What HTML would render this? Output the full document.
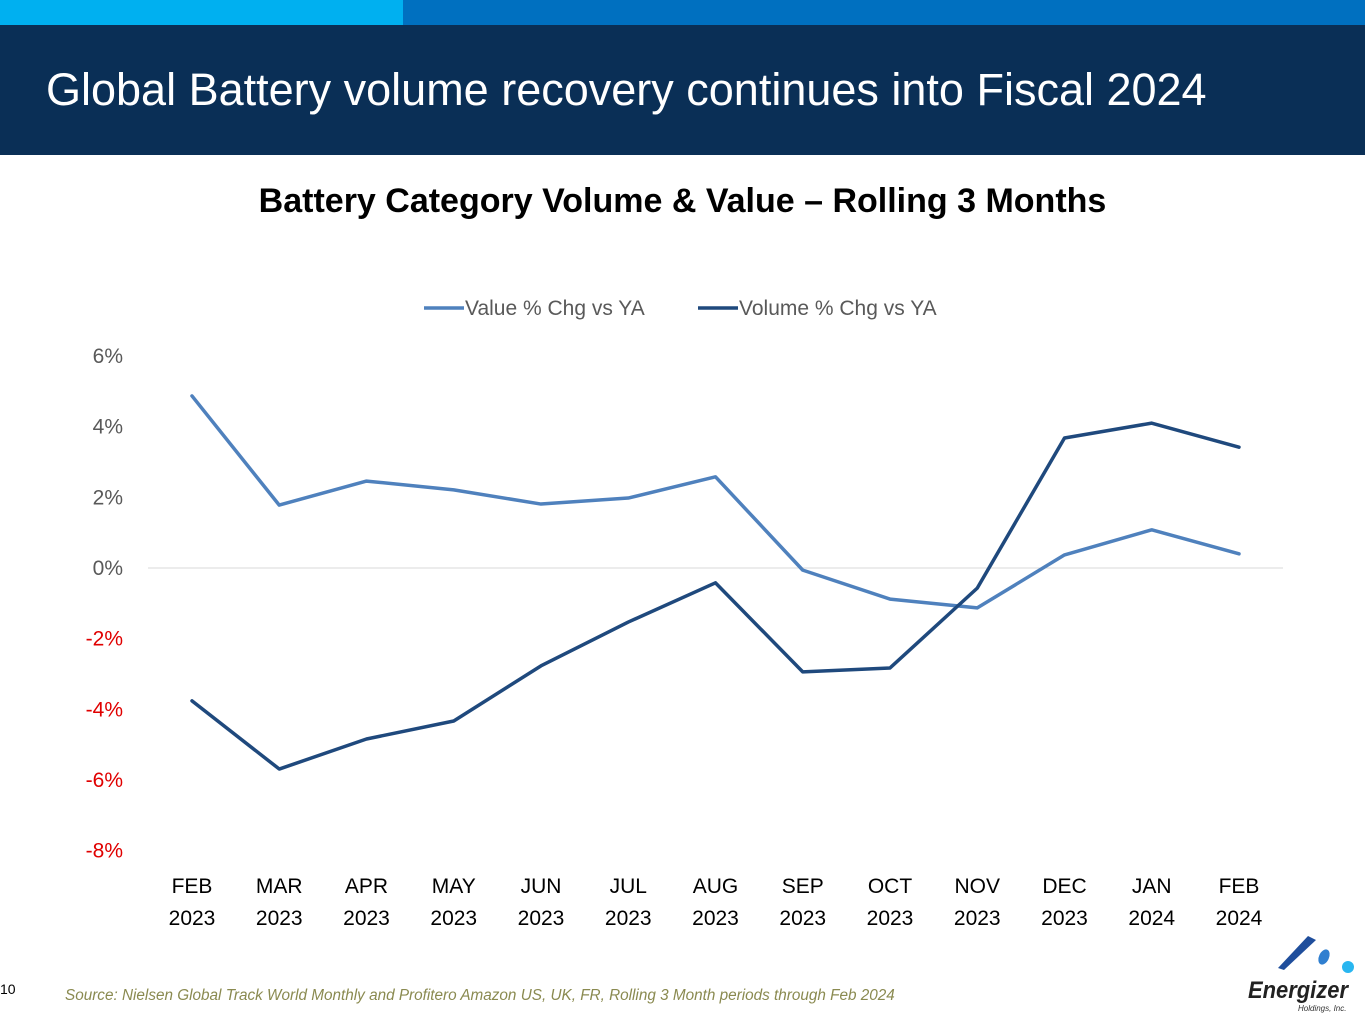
<!DOCTYPE html>
<html><head><meta charset="utf-8"><style>
body{margin:0;width:1365px;height:1024px;position:relative;background:#fff;font-family:"Liberation Sans",sans-serif;overflow:hidden}
</style></head><body>
<div style="position:absolute;left:0;top:0;width:403px;height:25px;background:#00b0f0"></div>
<div style="position:absolute;left:403px;top:0;width:962px;height:25px;background:#0070c0"></div>
<div style="position:absolute;left:0;top:25px;width:1365px;height:130px;background:#0a2f56"></div>
<div style="position:absolute;left:46px;top:64px;color:#fff;font-size:45px;white-space:nowrap">Global Battery volume recovery continues into Fiscal 2024</div>
<div style="position:absolute;left:0;width:1365px;top:182px;text-align:center;font-weight:bold;font-size:34px;color:#000">Battery Category Volume &amp; Value – Rolling 3 Months</div>
<svg id="chart" width="1365" height="1024" style="position:absolute;left:0;top:0"></svg>
<div style="position:absolute;left:0;top:981px;font-size:14px;color:#000">10</div>
<div style="position:absolute;left:65px;top:987px;font-size:15.3px;font-style:italic;color:#8a8a50;white-space:nowrap">Source: Nielsen Global Track World Monthly and Profitero Amazon US, UK, FR, Rolling 3 Month periods through Feb 2024</div>
<svg width="125" height="90" style="position:absolute;left:1240px;top:930px">
<polygon points="38,38 68,6 76,10 44,40" fill="#1f4e9c"/>
<ellipse cx="84" cy="27" rx="5" ry="8" fill="#2f7fd0" transform="rotate(25 84 27)"/>
<circle cx="108" cy="37" r="6" fill="#29b6f0"/>
<text x="8" y="68" font-size="24" font-weight="bold" font-style="italic" fill="#222" textLength="100" lengthAdjust="spacingAndGlyphs">Energizer</text>
<text x="58" y="81" font-size="8" font-style="italic" fill="#333">Holdings, Inc.</text>
</svg>
<script>
const categories=["FEB|2023","MAR|2023","APR|2023","MAY|2023","JUN|2023","JUL|2023","AUG|2023","SEP|2023","OCT|2023","NOV|2023","DEC|2023","JAN|2024","FEB|2024"];
const valueSeries=[4.87,1.78,2.46,2.21,1.81,1.98,2.58,-0.06,-0.88,-1.13,0.37,1.08,0.40];
const volumeSeries=[-3.76,-5.69,-4.84,-4.33,-2.77,-1.53,-0.42,-2.94,-2.83,-0.57,3.68,4.10,3.42];
const yTicks=[6,4,2,0,-2,-4,-6,-8];
const legendLabels=["Value % Chg vs YA","Volume % Chg vs YA"];
const svg=document.getElementById('chart');
const NS="http://www.w3.org/2000/svg";
const x=i=>192+i*(1239-192)/(categories.length-1);
const y=v=>568-v*(568-356)/6;
function mk(t,a){const e=document.createElementNS(NS,t);for(const k in a)e.setAttribute(k,a[k]);svg.appendChild(e);return e;}
const g=mk('line',{x1:148,x2:1283,y1:y(0),y2:y(0),stroke:'#d9d9d9','stroke-width':1});


yTicks.forEach(v=>{const t=mk('text',{x:123,y:y(v)+7,'text-anchor':'end','font-size':21,fill:v<0?'#e00000':'#595959'});t.textContent=v+'%';

});
categories.forEach((c,i)=>{const p=c.split('|');[0,1].forEach(j=>{const t=mk('text',{x:x(i),y:893+j*32,'text-anchor':'middle','font-size':21,fill:'#000'});t.textContent=p[j];

});});
function line(data,color,name){const p=mk('polyline',{points:data.map((v,i)=>x(i)+','+y(v)).join(' '),fill:'none',stroke:color,'stroke-width':3.5,'stroke-linejoin':'round','stroke-linecap':'round'});

}
line(valueSeries,'#4f81bd','value-series-line');
line(volumeSeries,'#1f497d','volume-series-line');
[[424,'#4f81bd'],[698,'#1f497d']].forEach((l,i)=>{const s=mk('line',{x1:l[0],x2:l[0]+40,y1:308,y2:308,stroke:l[1],'stroke-width':3.5});


const t=mk('text',{x:l[0]+41,y:315,'font-size':21,fill:'#595959'});t.textContent=legendLabels[i];

});
</script>
</body></html>
